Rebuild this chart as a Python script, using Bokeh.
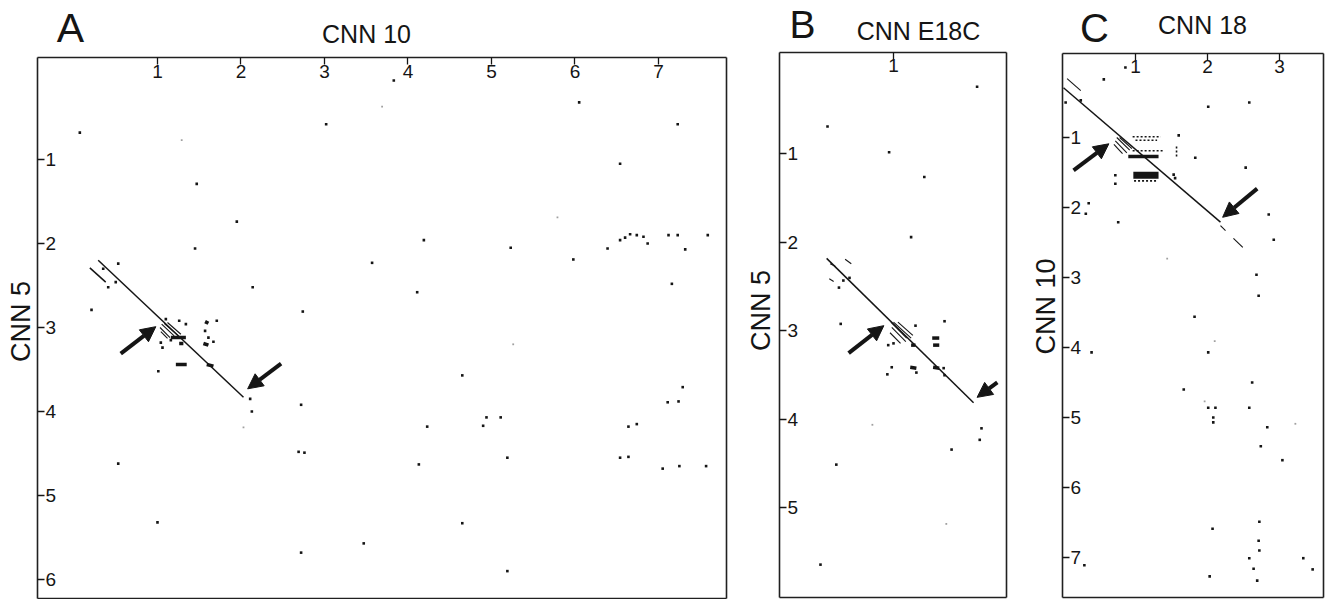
import math
from bokeh.plotting import figure
from bokeh.layouts import row
from bokeh.models import (Range1d, LinearAxis, FixedTicker, Label, Arrow,
                          NormalHead, ColumnDataSource)
from bokeh.core.properties import value
from bokeh.embed import file_html
from bokeh.resources import INLINE

FONT = "Liberation Sans"
INK = "#151515"

# ------------------------------------------------------------------ data
# Panel A : CNN 10 (x, kb) vs CNN 5 (y, kb)
A_XTICKS = [1, 2, 3, 4, 5, 6, 7]
A_YTICKS = [1, 2, 3, 4, 5, 6]
A_LINES = [(0.29, 2.20, 2.03, 3.83), (0.19, 2.29, 0.38, 2.46)]
A_DASHES = [(1.05, 2.96, 1.20, 3.10), (1.08, 2.95, 1.25, 3.10), (1.12, 2.94, 1.28, 3.08),
            (1.03, 3.00, 1.15, 3.12), (1.04, 3.05, 1.12, 3.13)]
A_BARS = [(1.16, 3.12, 1.34, 3.12), (1.22, 3.44, 1.35, 3.44), (1.59, 3.44, 1.67, 3.46),
          (1.55, 3.19, 1.61, 3.21), (1.26, 3.19, 1.31, 3.19), (1.57, 2.93, 1.61, 2.95)]
A_DOTS = [(0.07, 0.68), (3.02, 0.58), (3.83, 0.06), (1.47, 1.29), (1.95, 1.74), (4.19, 1.96),
          (3.57, 2.23), (2.14, 2.52), (4.11, 2.58), (1.45, 2.06), (6.05, 0.32), (7.23, 0.58),
          (6.54, 1.05), (5.23, 2.05), (5.98, 2.19), (6.39, 2.06), (6.54, 1.96), (6.60, 1.93),
          (6.66, 1.89), (6.74, 1.90), (6.82, 1.92), (6.87, 2.00), (7.12, 1.90), (7.23, 1.90),
          (7.32, 2.07), (7.59, 1.90), (7.16, 2.48), (0.21, 2.79), (2.74, 2.81), (2.72, 3.92),
          (4.23, 4.18), (2.69, 4.48), (2.76, 4.49), (0.53, 4.62), (4.13, 4.63), (1.00, 5.32),
          (3.47, 5.57), (2.72, 5.68), (4.65, 3.57), (4.94, 4.07), (5.11, 4.07), (4.90, 4.17),
          (5.19, 4.55), (4.65, 5.33), (5.19, 5.90), (7.29, 3.71), (7.11, 3.89), (7.24, 3.88),
          (6.64, 4.18), (6.74, 4.15), (6.54, 4.55), (6.64, 4.54), (7.05, 4.68), (7.25, 4.65),
          (7.57, 4.65), (0.53, 2.24), (0.35, 2.30), (0.41, 2.52), (0.50, 2.46), (1.10, 2.90),
          (1.26, 2.92), (1.34, 2.96), (1.71, 2.92), (1.57, 3.04), (1.61, 3.12), (1.67, 3.17),
          (1.04, 3.18), (1.06, 3.24), (1.16, 3.15), (1.01, 3.52), (2.11, 3.85), (2.13, 4.00)]
A_FAINT = [(1.29, 0.77), (3.69, 0.37), (5.79, 1.69), (2.03, 4.19), (5.26, 3.20)]
A_ARROWS = [(0.56, 3.31, 0.98, 2.99), (2.48, 3.43, 2.08, 3.73)]

# Panel B : CNN E18C (x) vs CNN 5 (y)
B_XTICKS = [1]
B_YTICKS = [1, 2, 3, 4, 5]
B_LINES = [(0.24, 2.18, 1.91, 3.81)]
B_DASHES = [(0.45, 2.19, 0.52, 2.24), (0.27, 2.41, 0.32, 2.44), (0.28, 2.24, 0.34, 2.27),
            (0.97, 2.90, 1.15, 3.08), (1.00, 2.90, 1.20, 3.08), (0.98, 2.96, 1.14, 3.12),
            (1.05, 2.90, 1.22, 3.05), (0.96, 3.02, 1.08, 3.14)]
B_BARS = [(1.44, 3.08, 1.52, 3.08), (1.45, 3.16, 1.52, 3.16), (1.19, 3.41, 1.26, 3.42),
          (1.45, 3.41, 1.52, 3.42), (1.20, 3.16, 1.25, 3.16)]
B_DOTS = [(1.95, 0.24), (0.25, 0.69), (0.95, 0.98), (1.35, 1.26), (1.20, 1.94), (0.43, 2.43),
          (0.38, 2.51), (0.50, 2.40), (0.40, 2.92), (1.58, 2.89), (1.25, 2.94), (0.94, 3.16),
          (1.00, 3.14), (0.98, 3.41), (0.93, 3.49), (1.26, 3.47), (1.57, 3.42), (1.58, 3.50),
          (2.00, 4.10), (1.98, 4.23), (1.66, 4.34), (0.35, 4.51), (0.17, 5.64)]
B_FAINT = [(0.76, 4.06), (1.60, 5.18)]
B_ARROWS = [(0.49, 3.25, 0.89, 2.94), (2.18, 3.58, 1.95, 3.75)]

# Panel C : CNN 18 (x) vs CNN 10 (y)
C_XTICKS = [1, 2, 3]
C_YTICKS = [1, 2, 3, 4, 5, 6, 7]
C_LINES = [(0.00, 0.29, 2.18, 2.21)]
C_DASHES = [(0.05, 0.16, 0.24, 0.33), (2.18, 2.26, 2.25, 2.33), (2.36, 2.44, 2.49, 2.57),
            (0.74, 1.00, 0.92, 1.18), (0.72, 1.05, 0.88, 1.22), (0.78, 1.00, 0.95, 1.16),
            (0.70, 1.10, 0.82, 1.23)]
C_BARS = [(0.90, 1.27, 1.32, 1.27)]
C_THICK = [(0.97, 1.54, 1.32, 1.54)]
C_DOTTED = [(0.96, 0.99, 1.35, 0.99), (1.00, 1.04, 1.30, 1.04), (0.96, 1.19, 1.40, 1.19),
            (0.98, 1.62, 1.30, 1.62), (1.57, 1.13, 1.57, 1.28)]
C_DOTS = [(0.56, 0.17), (0.86, 0.00), (0.24, 0.47), (0.03, 0.50), (2.01, 0.56), (2.58, 0.50),
          (2.53, 1.43), (1.83, 1.29), (1.60, 0.97), (0.72, 1.54), (0.72, 1.66), (0.76, 2.21),
          (0.35, 1.94), (0.31, 2.09), (1.53, 1.53), (1.55, 1.58), (2.85, 2.10), (2.92, 2.46),
          (2.68, 2.96), (2.71, 3.26), (1.82, 3.56), (2.01, 4.07), (0.39, 4.07), (2.62, 4.50),
          (1.67, 4.60), (2.01, 4.86), (2.11, 4.86), (2.08, 5.00), (2.08, 5.07), (2.58, 4.86),
          (2.83, 5.14), (2.74, 5.41), (3.04, 5.61), (2.72, 6.49), (2.07, 6.59), (2.71, 6.76),
          (2.72, 6.90), (2.58, 7.01), (2.64, 7.16), (2.69, 7.33), (2.03, 7.27), (3.33, 7.01),
          (3.46, 7.17), (0.29, 7.11)]
C_FAINT = [(1.44, 2.73), (2.10, 3.91), (1.96, 4.77), (3.22, 5.09)]
C_ARROWS = [(0.14, 1.47, 0.63, 1.09), (2.69, 1.73, 2.21, 2.14)]

FIG_H = 599


def segs(p, items, **kw):
    if not items:
        return
    p.segment(x0=[s[0] for s in items], y0=[s[1] for s in items],
              x1=[s[2] for s in items], y1=[s[3] for s in items], line_color=INK, **kw)


def edge_axis(p, side, loc, bounds, ticks):
    ax = LinearAxis(ticker=FixedTicker(ticks=ticks), fixed_location=loc, bounds=bounds,
                    major_tick_in=7, major_tick_out=0, minor_tick_line_color=None,
                    axis_line_color="#202020", axis_line_width=1.6,
                    major_tick_line_color=INK, major_tick_line_width=1.3,
                    major_label_text_color=None)
    p.add_layout(ax, side)


def panel(width, view_x, view_y, box, xticks, yticks,
          lines, dashes, bars, dots, faint, arrows, letter, title, ylabel,
          thick=None, dotted=None):
    # box = (left, right, top, bottom) of the drawn panel frame, in kb
    left, right, top, bottom = box
    p = figure(width=width, height=FIG_H, x_range=Range1d(*view_x), y_range=Range1d(*view_y),
               output_backend="svg", toolbar_location=None,
               x_axis_location=None, y_axis_location=None,
               min_border=0, min_border_left=0, min_border_right=0,
               min_border_top=0, min_border_bottom=0)
    p.outline_line_color = None
    p.background_fill_color = "white"
    p.border_fill_color = "white"
    p.grid.visible = False

    edge_axis(p, "above", top, (left, right), xticks)
    edge_axis(p, "below", bottom, (left, right), [])
    edge_axis(p, "left", left, (top, bottom), yticks)
    edge_axis(p, "right", right, (top, bottom), [])

    # tick labels drawn just inside the panel frame
    p.text(x=xticks, y=[top] * len(xticks), text=[str(t) for t in xticks],
           text_font=value(FONT), text_font_size="19px", text_color=INK,
           text_align="center", text_baseline="top", y_offset=7)
    p.text(x=[left] * len(yticks), y=yticks, text=[str(t) for t in yticks],
           text_font=value(FONT), text_font_size="19px", text_color=INK,
           text_align="left", text_baseline="middle", x_offset=8)

    segs(p, lines, line_width=1.5)
    segs(p, dashes, line_width=1.1)
    segs(p, bars, line_width=3.5)
    if thick:
        segs(p, thick, line_width=7)
    if dotted:
        segs(p, dotted, line_width=1.6, line_dash="2 2")

    p.scatter(x=[d[0] for d in dots], y=[d[1] for d in dots], marker="square",
              size=2.6, color=INK, line_width=0)
    p.scatter(x=[d[0] for d in faint], y=[d[1] for d in faint], marker="square",
              size=1.8, color="#a0a0a0", line_width=0)

    src = ColumnDataSource(dict(x0=[a[0] for a in arrows], y0=[a[1] for a in arrows],
                                x1=[a[2] for a in arrows], y1=[a[3] for a in arrows]))
    p.add_layout(Arrow(end=NormalHead(size=15, fill_color=INK, line_color=INK, line_width=1),
                       x_start="x0", y_start="y0", x_end="x1", y_end="y1", source=src,
                       line_color=INK, line_width=4))

    lt, lx, ly, lsize = letter
    p.add_layout(Label(x=lx, y=ly, x_units="screen", y_units="screen", text=lt,
                       text_font=FONT, text_font_size=lsize, text_color=INK,
                       text_align="center", text_baseline="middle"))
    tt, tx, ty = title
    p.add_layout(Label(x=tx, y=ty, x_units="screen", y_units="screen", text=tt,
                       text_font=FONT, text_font_size="25px", text_color=INK,
                       text_align="center", text_baseline="middle"))
    yt, yx, yy = ylabel
    p.add_layout(Label(x=yx, y=yy, x_units="screen", y_units="screen", text=yt,
                       angle=math.pi / 2, text_font=FONT, text_font_size="27px",
                       text_color=INK, text_align="center", text_baseline="middle"))
    return p


pa = panel(740, (-0.880, 7.982), (6.238, -0.893), (-0.437, 7.814, -0.214, 6.226),
           A_XTICKS, A_YTICKS, A_LINES, A_DASHES, A_BARS, A_DOTS, A_FAINT, A_ARROWS,
           ("A", 70, 572, "41px"), ("CNN 10", 366, 565.5), ("CNN 5", 20, 278))
pb = panel(290, (-0.739, 2.557), (6.034, -0.734), (-0.295, 2.284, -0.147, 6.011),
           B_XTICKS, B_YTICKS, B_LINES, B_DASHES, B_BARS, B_DOTS, B_FAINT, B_ARROWS,
           ("B", 62, 575, "39px"), ("CNN E18C", 178, 569), ("CNN 5", 20, 289))
pc = panel(299, (-0.458, 3.694), (7.600, -0.957), (-0.014, 3.611, -0.200, 7.571),
           C_XTICKS, C_YTICKS, C_LINES, C_DASHES, C_BARS, C_DOTS, C_FAINT, C_ARROWS,
           ("C", 64, 572, "40px"), ("CNN 18", 172, 575), ("CNN 10", 15, 293),
           thick=C_THICK, dotted=C_DOTTED)

layout = row(pa, pb, pc)
open("out.html", "w").write(file_html(layout, INLINE))
